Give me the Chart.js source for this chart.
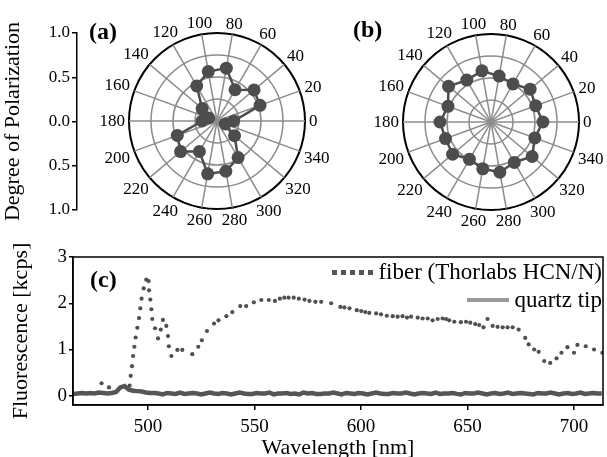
<!DOCTYPE html>
<html>
<head>
<meta charset="utf-8">
<script src="https://cdn.jsdelivr.net/npm/chart.js@4.4.0/dist/chart.umd.min.js"></script>
<style>
  body { margin: 0; background: #fff; }
  #wrap { position: relative; width: 607px; height: 457px; overflow: hidden; background: #fff;
          font-family: "Liberation Serif", "DejaVu Serif", serif; color: #000; }
  canvas { position: absolute; }
  .tag { position: absolute; font-weight: bold; font-size: 24px; line-height: 1; }
  .row { position: absolute; right: 5px; height: 26px; display: flex; align-items: center;
         font-size: 23px; white-space: nowrap; }
  .dots { width: 43px; height: 5px; margin-right: 3px;
          background: repeating-linear-gradient(90deg, #555 0 5px, transparent 5px 9px); }
  .bar { width: 42px; height: 4px; margin-right: 6px; background: #999; }
</style>
</head>
<body>
<div id="wrap">
  <canvas id="dopAxis" width="80" height="240" style="left:0;top:0"></canvas>
  <canvas id="polarA" width="240" height="240" style="left:97px;top:1px"></canvas>
  <canvas id="polarB" width="240" height="240" style="left:371px;top:2px"></canvas>
  <canvas id="spectrum" width="607" height="217" style="left:0;top:240px"></canvas>
  <div class="tag" style="left:89px;top:19px">(a)</div>
  <div class="tag" style="left:353px;top:17px">(b)</div>
  <div class="tag" style="left:90px;top:267px">(c)</div>
  <div class="row" style="top:259px"><span class="dots"></span>fiber (Thorlabs HCN/N)</div>
  <div class="row" style="top:287px"><span class="bar"></span>quartz tip</div>
</div>
<script>
const serif = '"Liberation Serif", "DejaVu Serif", serif';
Chart.defaults.font.family = serif;
Chart.defaults.color = '#000';

// polar plots (a), (b): analyser angle in degrees, degree of polarization
const angles = [0, 20, 40, 60, 80, 100, 120, 140, 160, 180, 200, 220, 240, 260, 280, 300, 320, 340];
const dopA = [0.19, 0.52, 0.55, 0.41, 0.61, 0.57, 0.46, 0.22, 0.10, 0.17, 0.48, 0.54, 0.40, 0.61, 0.58, 0.48, 0.26, 0.10];
const dopB = [0.59, 0.54, 0.58, 0.50, 0.53, 0.59, 0.55, 0.63, 0.52, 0.58, 0.55, 0.57, 0.49, 0.54, 0.58, 0.53, 0.61, 0.53];
const dopTickLabels = ['1.0', '0.5', '0.0', '0.5', '1.0'];

// spectrum (c)
const fiberWavelength = [478.2, 481.7, 491.4, 491.9, 492.5, 493.0, 493.6, 494.2, 495.0, 495.8, 496.4, 497.0, 498.0, 499.2,
  500.3, 500.5, 501.1, 501.6, 502.0, 503.3, 504.7, 506.0, 507.0, 508.6, 509.4, 509.8, 511.0, 513.8, 516.1, 520.8,
  523.6, 525.3, 527.7, 531.0, 533.1, 536.8, 539.6, 543.3, 546.1, 549.7, 553.2, 556.7, 559.6, 561.9, 564.0, 566.0,
  568.4, 570.8, 573.5, 575.8, 578.6, 581.3, 586.0, 590.3, 592.2, 594.6, 598.0, 600.1, 602.0, 603.9, 607.1, 609.4,
  612.1, 614.9, 617.2, 619.5, 621.6, 623.5, 626.6, 628.9, 631.3, 633.6, 636.0, 638.3, 639.9, 641.4, 643.8, 646.9,
  649.3, 651.3, 653.6, 655.5, 657.5, 659.4, 661.8, 664.1, 666.5, 668.8, 671.2, 674.0, 677.1, 678.7, 681.3, 683.4,
  686.0, 688.8, 691.8, 694.1, 696.9, 700.0, 701.6, 705.5, 709.4, 713.3];
const fiberSignal = [0.27, 0.18, 0.22, 0.43, 0.64, 0.86, 1.06, 1.26, 1.47, 1.68, 1.89, 2.10, 2.32, 2.51,
  2.48, 2.28, 2.08, 1.87, 1.66, 1.46, 1.24, 1.43, 1.64, 1.51, 1.29, 1.07, 0.86, 0.99, 0.99, 0.90,
  1.06, 1.20, 1.40, 1.56, 1.63, 1.72, 1.81, 1.94, 1.94, 2.02, 2.07, 2.07, 2.05, 2.10, 2.12, 2.12,
  2.12, 2.10, 2.08, 2.05, 2.03, 2.03, 2.00, 1.92, 1.91, 1.89, 1.85, 1.83, 1.81, 1.79, 1.78, 1.76,
  1.73, 1.72, 1.71, 1.72, 1.69, 1.71, 1.69, 1.67, 1.67, 1.63, 1.66, 1.67, 1.66, 1.63, 1.60, 1.59,
  1.60, 1.58, 1.55, 1.53, 1.48, 1.66, 1.51, 1.49, 1.48, 1.48, 1.48, 1.43, 1.25, 1.11, 1.00, 0.95,
  0.75, 0.71, 0.81, 0.93, 1.05, 0.93, 1.10, 1.07, 1.00, 0.93];

// quartz tip trace sampled every 2 nm from 465 nm
const quartzStart = 465;
const quartzStep = 2;
const quartzSignal = [0.04, 0.05, 0.06, 0.05, 0.06, 0.05, 0.07, 0.06, 0.05, 0.06,
  0.08, 0.18, 0.21, 0.13, 0.11, 0.10, 0.09, 0.07, 0.06, 0.06,
  0.05, 0.03, 0.06, 0.05, 0.04, 0.07, 0.04, 0.05, 0.06, 0.05, 0.03, 0.05, 0.07, 0.05, 0.04,
  0.06, 0.05, 0.03, 0.05, 0.07, 0.05, 0.04, 0.04, 0.06, 0.05, 0.05, 0.07, 0.03, 0.05, 0.05,
  0.06, 0.04, 0.05, 0.03, 0.07, 0.05, 0.06, 0.04, 0.04, 0.05, 0.05, 0.07, 0.05, 0.03, 0.06,
  0.05, 0.04, 0.06, 0.05, 0.03, 0.05, 0.07, 0.05, 0.04, 0.04, 0.06, 0.05, 0.05, 0.07, 0.05,
  0.03, 0.05, 0.06, 0.05, 0.04, 0.07, 0.04, 0.05, 0.05, 0.06, 0.04, 0.03, 0.06, 0.05, 0.05,
  0.07, 0.05, 0.03, 0.05, 0.06, 0.04, 0.05, 0.07, 0.04, 0.05, 0.06, 0.05, 0.04, 0.03, 0.06,
  0.05, 0.05, 0.07, 0.05, 0.03, 0.05, 0.06, 0.04, 0.05, 0.07, 0.04, 0.05, 0.06, 0.05, 0.05];
const spectrumTicks = [500, 550, 600, 650, 700];

const noTips = { legend: { display: false }, tooltip: { enabled: false } };

// left-hand DOP axis shared by both polar plots
new Chart(document.getElementById('dopAxis'), {
    type: 'scatter',
    data: { datasets: [] },
    options: {
        responsive: false,
        animation: false,
        layout: { padding: { top: 33, bottom: 30, left: 0, right: 0 } },
        plugins: noTips,
        scales: {
            x: { display: false },
            y: {
                min: -1, max: 1,
                ticks: { stepSize: 0.5, padding: 2, font: { size: 17 }, callback: (v, i) => dopTickLabels[i] },
                grid: { drawOnChartArea: false, tickLength: 5, color: '#000', lineWidth: 1.5 },
                border: { color: '#000', width: 1.5 },
                title: { display: true, text: 'Degree of Polarization', font: { size: 22 }, padding: 0 },
                afterFit: s => { s.width = 77; }
            }
        }
    }
});

// angle labels sit just outside the rim, centred on their spoke
const rimLabels = {
    id: 'rimLabels',
    afterDraw(chart) {
        const s = chart.scales.r;
        const ctx = chart.ctx;
        ctx.save();
        ctx.font = '17px ' + serif;
        ctx.fillStyle = '#000';
        ctx.textAlign = 'center';
        ctx.textBaseline = 'middle';
        chart.data.labels.forEach((lab, i) => {
            const a = s.getIndexAngle(i) - Math.PI / 2;
            const w = ctx.measureText(lab).width;
            const d = s.drawingArea + 4 + Math.abs(Math.cos(a)) * w / 2 + Math.abs(Math.sin(a)) * 6;
            const p = s.getPointPosition(i, d);
            ctx.fillText(lab, p.x, p.y + 1);
        });
        ctx.restore();
    }
};

function polarChart(id, values) {
    // radar runs clockwise from the start angle, so walk the angles backwards
    const order = angles.map((a, i) => (angles.length - i) % angles.length);
    return new Chart(document.getElementById(id), {
        type: 'radar',
        data: {
            labels: order.map(i => String(angles[i])),
            datasets: [{
                data: order.map(i => values[i]),
                borderColor: '#4d4d4d',
                borderWidth: 2.5,
                backgroundColor: 'transparent',
                fill: false,
                pointRadius: 6.5,
                pointBackgroundColor: '#4d4d4d',
                pointBorderWidth: 0
            }]
        },
        options: {
            responsive: false,
            animation: false,
            layout: { padding: 32 },
            plugins: noTips,
            scales: {
                r: {
                    min: 0, max: 1,
                    startAngle: 90,
                    ticks: { display: false, stepSize: 0.25 },
                    grid: {
                        circular: true,
                        color: c => c.tick && c.tick.value >= 1 ? '#000' : '#8c8c8c',
                        lineWidth: c => c.tick && c.tick.value >= 1 ? 2 : 1.5
                    },
                    angleLines: { color: '#8c8c8c', lineWidth: 1.5 },
                    pointLabels: { display: false }
                }
            }
        },
        plugins: [rimLabels]
    });
}

polarChart('polarA', dopA);
polarChart('polarB', dopB);

const frame = {
    id: 'frame',
    afterDatasetsDraw(chart) {
        const { ctx, chartArea: a } = chart;
        ctx.save();
        ctx.strokeStyle = '#000';
        ctx.lineWidth = 1.5;
        ctx.strokeRect(a.left, a.top, a.right - a.left, a.bottom - a.top);
        ctx.restore();
    }
};

new Chart(document.getElementById('spectrum'), {
    type: 'scatter',
    data: {
        datasets: [
            {
                label: 'fiber (Thorlabs HCN/N)',
                data: fiberWavelength.map((x, i) => ({ x, y: fiberSignal[i] })),
                showLine: false,
                pointRadius: 2.1,
                pointBackgroundColor: '#505050',
                pointBorderWidth: 0,
                order: 1
            },
            {
                label: 'quartz tip',
                data: quartzSignal.map((y, i) => ({ x: quartzStart + i * quartzStep, y })),
                showLine: true,
                borderColor: '#555',
                borderWidth: 4.5,
                pointRadius: 0,
                order: 2
            }
        ]
    },
    options: {
        responsive: false,
        animation: false,
        layout: { padding: { top: 17, right: 2, left: 0, bottom: 0 } },
        plugins: noTips,
        scales: {
            x: {
                type: 'linear',
                min: 464.8, max: 713.6,
                afterBuildTicks: s => { s.ticks = spectrumTicks.map(v => ({ value: v })); },
                ticks: { font: { size: 19 }, padding: 6, callback: v => String(v) },
                grid: { drawOnChartArea: false, tickLength: 5, color: '#000', lineWidth: 1.5 },
                border: { color: '#000', width: 1.5 },
                title: { display: true, text: 'Wavelength [nm]', font: { size: 22 }, padding: { top: 0, bottom: -4 } },
                afterFit: s => { s.height = 52; }
            },
            y: {
                min: -0.2, max: 3,
                ticks: { stepSize: 1, includeBounds: false, font: { size: 19 }, padding: 2 },
                grid: { drawOnChartArea: false, tickLength: 4, color: '#000', lineWidth: 1.5 },
                border: { color: '#000', width: 1.5 },
                title: { display: true, text: 'Fluorescence [kcps]', font: { size: 22 }, padding: 8 },
                afterFit: s => { s.width = 73; }
            }
        }
    },
    plugins: [frame]
});
</script>
</body>
</html>
